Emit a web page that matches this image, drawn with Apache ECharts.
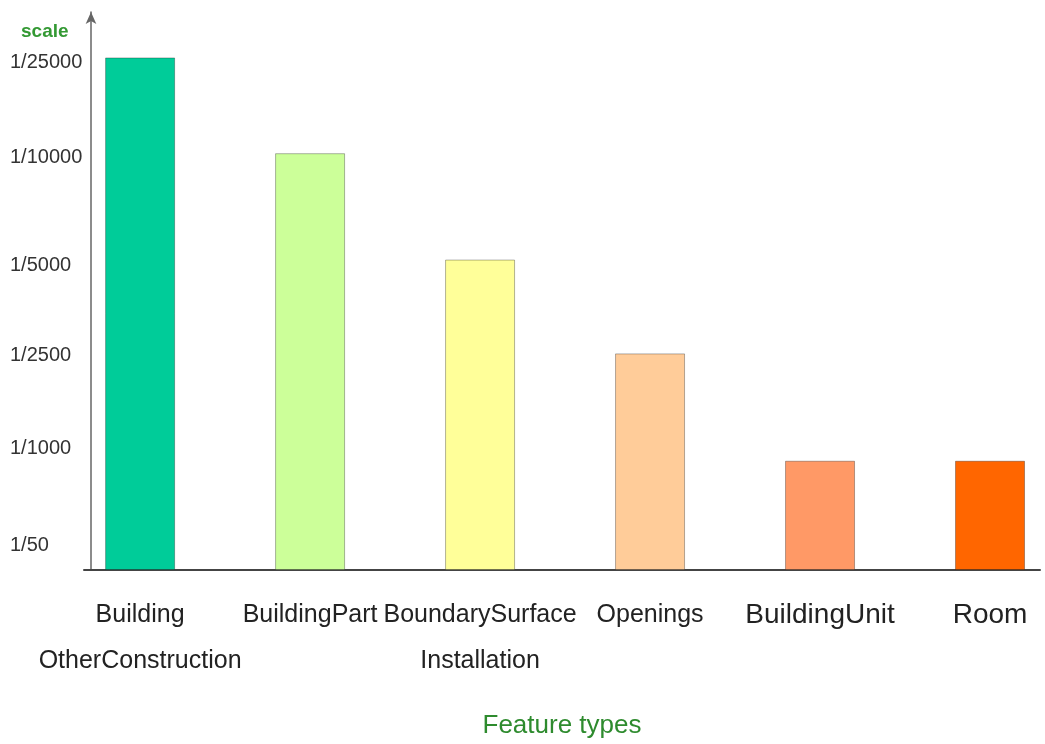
<!DOCTYPE html>
<html lang="en">
<head>
    <meta charset="utf-8" />
    <title>Feature types / scale</title>
    <style>
        html, body { margin: 0; padding: 0; background: #ffffff; }
        #main { width: 1045px; height: 744px; }
    </style>
</head>
<body>
<div id="main"></div>
<script src="https://cdn.jsdelivr.net/npm/echarts@6/dist/echarts.min.js"></script>
<script type="text/javascript">
    // feature types (x) and the scale level each one is shown at (y)
    var categories = ['Building\nOtherConstruction', 'BuildingPart', 'BoundarySurface\nInstallation',
        'Openings', 'BuildingUnit', 'Room'];
    var levels = [5.30, 4.31, 3.21, 2.24, 1.13, 1.13];
    var colors = ['#00CC99', '#CCFF99', '#FFFF99', '#FFCC99', '#FF9966', '#FF6600'];

    // y tick labels and where they sit on the level axis
    var scaleLabels = ['1/50', '1/1000', '1/2500', '1/5000', '1/10000', '1/25000'];
    var scaleLevels = [0.25, 1.26, 2.22, 3.15, 4.27, 5.25];

    var myChart = echarts.init(document.getElementById('main'));

    var data = [];
    for (var i = 0; i < categories.length; i++) {
        data.push({
            name: categories[i],
            value: [i, levels[i]],
            itemStyle: {color: colors[i]},
            label: {fontSize: i >= 4 ? 28 : 25}
        });
    }

    var option = {
        animation: false,
        backgroundColor: '#ffffff',
        title: {
            text: 'scale',
            left: 16,
            top: 17,
            textStyle: {color: '#339933', fontSize: 19, fontWeight: 'bold', fontFamily: 'Liberation Sans'}
        },
        grid: {left: 84, right: 5, top: 12, bottom: 172},
        xAxis: {
            type: 'value',
            min: -0.33,
            max: 5.294,
            name: 'Feature types',
            nameLocation: 'middle',
            nameGap: 156,
            nameTextStyle: {color: '#2e8b2e', fontSize: 26, fontFamily: 'Liberation Sans', verticalAlign: 'middle'},
            axisLine: {show: true, onZero: false, lineStyle: {color: '#444', width: 2}},
            axisTick: {show: false},
            axisLabel: {show: false},
            splitLine: {show: false}
        },
        yAxis: {
            type: 'value',
            min: 0,
            max: 5.77,
            offset: -7,
            axisLine: {
                show: true,
                onZero: false,
                symbol: ['none', 'arrow'],
                symbolSize: [8, 12],
                lineStyle: {color: '#666', width: 1.5}
            },
            axisTick: {show: false},
            splitLine: {show: false},
            axisLabel: {
                customValues: scaleLevels,
                align: 'left',
                margin: 81,
                color: '#333',
                fontSize: 20,
                fontFamily: 'Liberation Sans',
                formatter: function (v) {
                    var best = 0;
                    for (var k = 0; k < scaleLevels.length; k++) {
                        if (Math.abs(scaleLevels[k] - v) < Math.abs(scaleLevels[best] - v)) best = k;
                    }
                    return scaleLabels[best];
                }
            }
        },
        series: [
            {
                type: 'bar',
                barWidth: 70,
                data: data,
                itemStyle: {borderColor: 'rgba(0,0,0,0.3)', borderWidth: 1},
                label: {
                    show: true,
                    position: 'bottom',
                    distance: 22,
                    formatter: '{b}',
                    color: '#222',
                    fontFamily: 'Liberation Sans',
                    lineHeight: 46
                }
            }
        ]
    };

    myChart.setOption(option);
</script>
</body>
</html>
